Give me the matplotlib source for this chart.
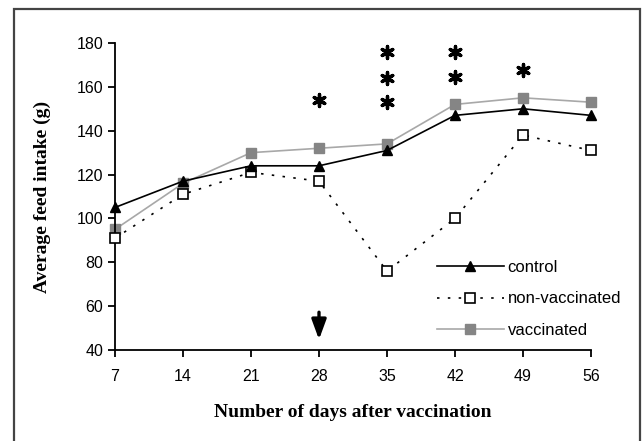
import matplotlib.pyplot as plt
from matplotlib.patches import Rectangle

days = [7, 14, 21, 28, 35, 42, 49, 56]
control = [105, 117, 124, 124, 131, 147, 150, 147]
non_vaccinated = [91, 111, 121, 117, 76, 100, 138, 131]
vaccinated = [95, 116, 130, 132, 134, 152, 155, 153]

# significance stars: (day, y of each star)
stars = [(28, [154]), (35, [153, 164, 176]), (42, [164.5, 176]), (49, [167.5])]

fig = plt.figure(figsize=(6.42, 4.41), dpi=100)
ax = fig.add_axes([0.1791, 0.2063, 0.9206 - 0.1791, 0.9025 - 0.2063])

# outer frame around the whole figure
fig.patches.append(Rectangle((14 / 642, -0.05), (640 - 14) / 642, 1 - 9 / 441 + 0.05,
                             transform=fig.transFigure, fill=False,
                             edgecolor='#444444', linewidth=1.6))

ax.plot(days, control, color='black', lw=1.2, marker='^', ms=7.5,
        mfc='black', mec='black', label='control', clip_on=False, zorder=4)
ax.plot(days, non_vaccinated, color='black', lw=1.2, ls=(0, (1.5, 5)),
        marker='s', ms=7.5, mfc='white', mec='black', mew=1.2,
        label='non-vaccinated', clip_on=False, zorder=3)
ax.plot(days, vaccinated, color='#a8a8a8', lw=1.2, marker='s', ms=7.5,
        mfc='#858585', mec='#858585', label='vaccinated', clip_on=False, zorder=2)

for d, ys in stars:
    for y in ys:
        ax.scatter(d, y, marker=(6, 2, 0), s=75, color='black', lw=2.4)

# vaccination arrow
ax.annotate('', xy=(28, 43.5), xytext=(28, 58.5),
            arrowprops=dict(arrowstyle='-|>,head_length=0.6,head_width=0.22',
                            color='black', lw=2.4, mutation_scale=20))

ax.set_xlim(7, 56)
ax.set_ylim(40, 180)
ax.set_xticks(days)
ax.set_yticks(range(40, 181, 20))
for s in ['top', 'right']:
    ax.spines[s].set_visible(False)
for s in ['left', 'bottom']:
    ax.spines[s].set_linewidth(1.3)
ax.tick_params(direction='out', length=5, width=1.3, labelsize=11.5)
ax.tick_params(axis='x', pad=9)
for lbl in ax.get_xticklabels() + ax.get_yticklabels():
    lbl.set_family('Liberation Sans')

ax.set_xlabel('Number of days after vaccination', family='Liberation Serif',
              fontweight='bold', fontsize=14, labelpad=14)
ax.set_ylabel('Average feed intake (g)', family='Liberation Serif',
              fontweight='bold', fontsize=14, labelpad=18)

leg = ax.legend(loc='lower right', bbox_to_anchor=(1.095, -0.01), frameon=False,
                prop={'family': 'Liberation Sans', 'size': 12},
                handlelength=4.0, handletextpad=0.25, labelspacing=1.0)

fig.savefig('out.png', dpi=100)
